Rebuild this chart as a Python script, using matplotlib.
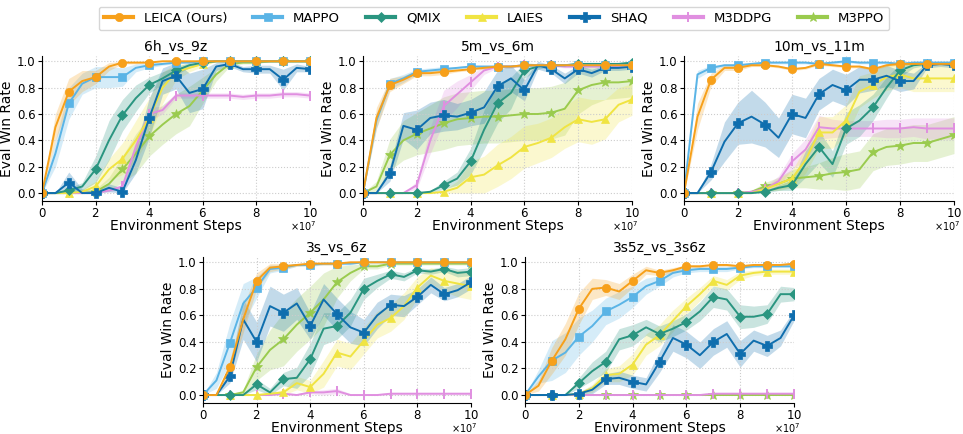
import numpy as np
import matplotlib
matplotlib.use("Agg")
import matplotlib.pyplot as plt
from matplotlib.ticker import ScalarFormatter

steps = np.arange(21) * 0.5e7

methods = ["LEICA (Ours)", "MAPPO", "QMIX", "LAIES", "SHAQ", "M3DDPG", "M3PPO"]
colors = ["#f7a01a", "#5ab4e6", "#2a9580", "#f0e442", "#0f6eae", "#e08fe0", "#9acb4e"]
markers = ["o", "s", "D", "^", "P", "|", "*"]

titles = ["6h_vs_9z", "5m_vs_6m", "10m_vs_11m", "3s_vs_6z", "3s5z_vs_3s6z"]

# ---- 6h_vs_9z ----
m6h_leica = [0, 0.5, 0.77, 0.85, 0.88, 0.96, 0.99, 0.99, 0.99, 1.0, 1.0, 1, 1, 1, 1, 1, 1, 1, 1, 1, 1]
m6h_mappo = [0, 0.3, 0.68, 0.83, 0.88, 0.88, 0.88, 0.95, 0.97, 0.98, 0.99, 0.99, 1.0, 1, 1, 1, 1, 1, 1, 1, 1]
m6h_qmix = [0, 0, 0.02, 0.05, 0.18, 0.4, 0.59, 0.72, 0.82, 0.87, 0.93, 0.97, 0.99, 1.0, 1, 1, 1, 1, 1, 1, 1]
m6h_laies = [0, 0, 0, 0.01, 0.05, 0.18, 0.26, 0.4, 0.57, 0.8, 0.92, 0.95, 0.98, 1.0, 1, 1, 1, 1, 1, 1, 1]
m6h_shaq = [0, 0, 0.08, 0, 0, 0.04, 0.01, 0.25, 0.57, 0.85, 0.89, 0.76, 0.79, 0.96, 0.98, 0.94, 0.94, 0.94, 0.86, 0.95, 0.94]
m6h_m3ddpg = [0, 0, 0, 0, 0, 0.02, 0.05, 0.35, 0.6, 0.63, 0.74, 0.74, 0.74, 0.74, 0.74, 0.73, 0.74, 0.74, 0.75, 0.75, 0.74]
m6h_m3ppo = [0, 0, 0, 0, 0.01, 0.07, 0.18, 0.3, 0.43, 0.52, 0.6, 0.66, 0.78, 0.9, 0.98, 0.99, 0.99, 1, 1, 1, 1]
s6h_leica = [0, 0.1, 0.1, 0.08, 0.05, 0.03, 0.01, 0.01, 0, 0, 0, 0, 0, 0, 0, 0, 0, 0, 0, 0, 0]
s6h_mappo = [0, 0.1, 0.12, 0.08, 0.08, 0.08, 0.07, 0.03, 0.02, 0.01, 0.01, 0, 0, 0, 0, 0, 0, 0, 0, 0, 0]
s6h_qmix = [0, 0, 0.02, 0.03, 0.1, 0.15, 0.12, 0.1, 0.06, 0.05, 0.03, 0.02, 0.01, 0, 0, 0, 0, 0, 0, 0, 0]
s6h_laies = [0, 0, 0.02, 0.02, 0.04, 0.08, 0.12, 0.15, 0.15, 0.12, 0.06, 0.03, 0.02, 0, 0, 0, 0, 0, 0, 0, 0]
s6h_shaq = [0, 0, 0.08, 0.03, 0.02, 0.03, 0.03, 0.1, 0.15, 0.1, 0.1, 0.15, 0.15, 0.03, 0.02, 0.02, 0.03, 0.03, 0.08, 0.03, 0.02]
s6h_m3ddpg = [0, 0, 0, 0, 0, 0.01, 0.02, 0.05, 0.05, 0.03, 0.02, 0.02, 0.02, 0.02, 0.02, 0.02, 0.02, 0.02, 0.02, 0.02, 0.02]
s6h_m3ppo = [0, 0, 0, 0.01, 0.02, 0.05, 0.1, 0.15, 0.15, 0.15, 0.15, 0.15, 0.1, 0.05, 0.02, 0.01, 0.01, 0, 0, 0, 0]

# ---- 5m_vs_6m ----
m5m_leica = [0, 0.57, 0.82, 0.86, 0.91, 0.91, 0.92, 0.93, 0.94, 0.95, 0.96, 0.96, 0.97, 0.97, 0.97, 0.97, 0.97, 0.97, 0.97, 0.97, 0.97]
m5m_mappo = [0, 0.55, 0.83, 0.87, 0.92, 0.93, 0.94, 0.95, 0.96, 0.96, 0.96, 0.96, 0.97, 0.97, 0.97, 0.97, 0.97, 0.97, 0.97, 0.97, 0.97]
m5m_qmix = [0, 0, 0, 0, 0, 0.01, 0.06, 0.11, 0.24, 0.48, 0.68, 0.76, 0.93, 0.96, 0.97, 0.97, 0.98, 0.98, 0.98, 0.98, 0.99]
m5m_laies = [0, 0, 0, 0, 0, 0, 0.01, 0.04, 0.12, 0.14, 0.21, 0.27, 0.35, 0.38, 0.42, 0.5, 0.56, 0.54, 0.56, 0.67, 0.71]
m5m_shaq = [0, 0, 0.15, 0.51, 0.48, 0.57, 0.59, 0.58, 0.61, 0.65, 0.81, 0.87, 0.78, 0.97, 0.94, 0.87, 0.94, 0.91, 0.95, 0.95, 0.96]
m5m_m3ddpg = [0, 0, 0, 0, 0.06, 0.4, 0.66, 0.75, 0.84, 0.93, 0.96, 0.96, 0.97, 0.97, 0.97, 0.96, 0.96, 0.96, 0.96, 0.96, 0.96]
m5m_m3ppo = [0, 0.05, 0.29, 0.4, 0.45, 0.49, 0.53, 0.56, 0.57, 0.58, 0.58, 0.59, 0.6, 0.6, 0.61, 0.64, 0.78, 0.82, 0.84, 0.84, 0.85]
s5m_leica = [0, 0.08, 0.05, 0.03, 0.02, 0.02, 0.02, 0.01, 0.01, 0.01, 0.01, 0.01, 0.01, 0.01, 0.01, 0.01, 0.01, 0.01, 0.01, 0.01, 0.01]
s5m_mappo = [0, 0.06, 0.04, 0.03, 0.02, 0.02, 0.02, 0.01, 0.01, 0.01, 0.01, 0.01, 0.01, 0.01, 0.01, 0.01, 0.01, 0.01, 0.01, 0.01, 0.01]
s5m_qmix = [0, 0, 0, 0, 0, 0.01, 0.03, 0.05, 0.1, 0.15, 0.15, 0.12, 0.06, 0.02, 0.01, 0.01, 0.01, 0.01, 0.01, 0.01, 0.01]
s5m_laies = [0, 0, 0, 0, 0, 0, 0.01, 0.05, 0.12, 0.14, 0.16, 0.16, 0.16, 0.15, 0.15, 0.16, 0.17, 0.17, 0.15, 0.13, 0.12]
s5m_shaq = [0, 0, 0.06, 0.1, 0.15, 0.12, 0.12, 0.1, 0.1, 0.12, 0.12, 0.1, 0.08, 0.03, 0.03, 0.04, 0.03, 0.03, 0.02, 0.02, 0.02]
s5m_m3ddpg = [0, 0, 0, 0, 0.03, 0.1, 0.12, 0.1, 0.06, 0.03, 0.01, 0.01, 0.01, 0.01, 0.01, 0.01, 0.01, 0.01, 0.01, 0.01, 0.01]
s5m_m3ppo = [0, 0.04, 0.12, 0.15, 0.16, 0.18, 0.2, 0.2, 0.2, 0.2, 0.2, 0.2, 0.2, 0.2, 0.2, 0.2, 0.18, 0.15, 0.13, 0.12, 0.12]

# ---- 10m_vs_11m ----
m10_leica = [0, 0.58, 0.86, 0.95, 0.95, 0.97, 0.97, 0.96, 0.94, 0.95, 0.98, 0.97, 0.96, 0.96, 0.94, 0.97, 0.98, 0.98, 0.98, 0.98, 0.98]
m10_mappo = [0, 0.9, 0.95, 0.97, 0.97, 0.98, 0.99, 0.99, 0.99, 0.99, 0.98, 0.99, 1.0, 0.99, 0.99, 0.99, 0.98, 0.99, 0.99, 0.99, 0.99]
m10_qmix = [0, 0, 0, 0, 0, 0, 0.01, 0.04, 0.06, 0.22, 0.35, 0.22, 0.49, 0.55, 0.65, 0.8, 0.93, 0.97, 0.98, 0.98, 0.98]
m10_laies = [0, 0, 0, 0, 0, 0, 0.03, 0.07, 0.11, 0.25, 0.46, 0.46, 0.55, 0.77, 0.82, 0.88, 0.9, 0.87, 0.87, 0.87, 0.87]
m10_shaq = [0, 0, 0.16, 0.39, 0.53, 0.58, 0.52, 0.42, 0.6, 0.57, 0.75, 0.82, 0.78, 0.86, 0.86, 0.89, 0.85, 0.85, 0.97, 0.98, 0.97]
m10_m3ddpg = [0, 0, 0, 0, 0, 0.01, 0.03, 0.09, 0.24, 0.33, 0.5, 0.49, 0.49, 0.49, 0.49, 0.49, 0.49, 0.5, 0.49, 0.49, 0.49]
m10_m3ppo = [0, 0, 0, 0, 0, 0.01, 0.05, 0.07, 0.11, 0.12, 0.13, 0.15, 0.16, 0.18, 0.31, 0.35, 0.36, 0.38, 0.38, 0.41, 0.44]
s10_leica = [0, 0.1, 0.05, 0.02, 0.02, 0.01, 0.01, 0.01, 0.01, 0.01, 0.01, 0.01, 0.01, 0.01, 0.01, 0.01, 0.01, 0.01, 0.01, 0.01, 0.01]
s10_mappo = [0, 0.03, 0.02, 0.01, 0.01, 0.01, 0.01, 0.01, 0.01, 0.01, 0.01, 0.01, 0.01, 0.01, 0.01, 0.01, 0.01, 0.01, 0.01, 0.01, 0.01]
s10_qmix = [0, 0, 0, 0, 0, 0, 0.01, 0.02, 0.04, 0.1, 0.12, 0.1, 0.12, 0.12, 0.1, 0.08, 0.05, 0.02, 0.01, 0.01, 0.01]
s10_laies = [0, 0, 0, 0, 0, 0, 0.02, 0.04, 0.06, 0.1, 0.12, 0.12, 0.12, 0.12, 0.1, 0.1, 0.1, 0.1, 0.1, 0.1, 0.1]
s10_shaq = [0, 0, 0.06, 0.15, 0.16, 0.2, 0.17, 0.15, 0.15, 0.15, 0.12, 0.12, 0.12, 0.1, 0.08, 0.08, 0.08, 0.06, 0.02, 0.02, 0.02]
s10_m3ddpg = [0, 0, 0, 0, 0, 0.01, 0.02, 0.04, 0.06, 0.08, 0.09, 0.07, 0.06, 0.06, 0.06, 0.07, 0.07, 0.07, 0.08, 0.08, 0.08]
s10_m3ppo = [0, 0, 0, 0, 0, 0.01, 0.03, 0.05, 0.07, 0.08, 0.1, 0.12, 0.14, 0.14, 0.14, 0.14, 0.14, 0.14, 0.14, 0.14, 0.14]

# ---- 3s_vs_6z ----
m3s_leica = [0, 0, 0.21, 0.57, 0.86, 0.96, 0.97, 0.98, 0.99, 0.99, 0.99, 1, 1, 1, 1, 1, 1, 1, 1, 1, 1]
m3s_mappo = [0, 0.11, 0.39, 0.69, 0.81, 0.95, 0.96, 0.98, 0.98, 0.99, 0.99, 0.99, 1, 1, 1, 1, 1, 1, 1, 1, 1]
m3s_qmix = [0, 0, 0, 0, 0.08, 0.02, 0.12, 0.13, 0.27, 0.5, 0.52, 0.62, 0.8, 0.86, 0.91, 0.89, 0.94, 0.93, 0.95, 0.92, 0.93]
m3s_laies = [0, 0, 0, 0, 0, 0.01, 0.02, 0.09, 0.06, 0.16, 0.32, 0.29, 0.41, 0.53, 0.58, 0.67, 0.81, 0.9, 0.86, 0.84, 0.82]
m3s_shaq = [0, 0, 0.14, 0.57, 0.4, 0.67, 0.62, 0.69, 0.52, 0.72, 0.61, 0.51, 0.47, 0.6, 0.68, 0.67, 0.74, 0.83, 0.76, 0.79, 0.85]
m3s_m3ddpg = [0, 0, 0, 0, 0, 0, 0.01, 0, 0.02, 0.02, 0.03, 0, 0, 0, 0.01, 0.01, 0.01, 0.01, 0.01, 0.01, 0.01]
m3s_m3ppo = [0, 0, 0, 0.02, 0.21, 0.34, 0.42, 0.53, 0.62, 0.72, 0.85, 0.92, 0.97, 0.97, 0.99, 0.99, 0.99, 0.99, 0.99, 0.99, 0.99]
s3s_leica = [0, 0, 0.05, 0.1, 0.06, 0.03, 0.02, 0.01, 0.01, 0.01, 0.01, 0, 0, 0, 0, 0, 0, 0, 0, 0, 0]
s3s_mappo = [0, 0.06, 0.15, 0.15, 0.08, 0.03, 0.02, 0.01, 0.01, 0.01, 0.01, 0.01, 0, 0, 0, 0, 0, 0, 0, 0, 0]
s3s_qmix = [0, 0, 0, 0, 0.04, 0.03, 0.05, 0.08, 0.12, 0.12, 0.1, 0.1, 0.08, 0.05, 0.03, 0.03, 0.02, 0.02, 0.02, 0.03, 0.03]
s3s_laies = [0, 0, 0, 0, 0, 0.01, 0.02, 0.05, 0.05, 0.1, 0.1, 0.1, 0.1, 0.1, 0.1, 0.1, 0.08, 0.06, 0.08, 0.1, 0.1]
s3s_shaq = [0, 0, 0.05, 0.15, 0.15, 0.15, 0.14, 0.12, 0.1, 0.12, 0.12, 0.12, 0.1, 0.1, 0.08, 0.08, 0.06, 0.06, 0.05, 0.05, 0.05]
s3s_m3ddpg = [0, 0, 0, 0, 0, 0, 0.01, 0.01, 0.01, 0.02, 0.02, 0.01, 0.01, 0.01, 0.01, 0.01, 0.01, 0.01, 0.01, 0.01, 0.01]
s3s_m3ppo = [0, 0, 0, 0.02, 0.1, 0.15, 0.2, 0.2, 0.2, 0.2, 0.12, 0.06, 0.02, 0.02, 0.01, 0.01, 0.01, 0.01, 0.01, 0.01, 0.01]

# ---- 3s5z_vs_3s6z ----
m35_leica = [0, 0.07, 0.26, 0.42, 0.65, 0.8, 0.81, 0.78, 0.86, 0.94, 0.92, 0.94, 0.97, 0.97, 0.98, 0.98, 0.97, 0.98, 0.98, 0.98, 0.99]
m35_mappo = [0, 0.14, 0.26, 0.32, 0.44, 0.52, 0.63, 0.68, 0.74, 0.82, 0.86, 0.92, 0.94, 0.95, 0.95, 0.95, 0.96, 0.97, 0.97, 0.97, 0.97]
m35_qmix = [0, 0, 0, 0, 0.09, 0.18, 0.25, 0.42, 0.45, 0.51, 0.46, 0.5, 0.55, 0.63, 0.74, 0.72, 0.59, 0.59, 0.61, 0.76, 0.76]
m35_laies = [0, 0, 0, 0, 0.01, 0.05, 0.15, 0.16, 0.23, 0.38, 0.45, 0.56, 0.67, 0.76, 0.86, 0.83, 0.9, 0.92, 0.93, 0.93, 0.93]
m35_shaq = [0, 0, 0, 0, 0.01, 0.04, 0.12, 0.13, 0.1, 0.08, 0.25, 0.43, 0.38, 0.3, 0.4, 0.46, 0.31, 0.41, 0.37, 0.43, 0.6]
m35_m3ddpg = [0, 0, 0, 0, 0, 0, 0, 0, 0, 0, 0, 0, 0, 0, 0.01, 0.01, 0.01, 0.01, 0.01, 0.01, 0.01]
m35_m3ppo = [0, 0, 0, 0, 0, 0, 0, 0, 0, 0, 0, 0, 0, 0, 0, 0, 0, 0, 0, 0, 0]
s35_leica = [0, 0.04, 0.1, 0.12, 0.12, 0.08, 0.06, 0.06, 0.05, 0.03, 0.02, 0.02, 0.01, 0.01, 0.01, 0.01, 0.01, 0.01, 0.01, 0.01, 0.01]
s35_mappo = [0, 0.05, 0.15, 0.15, 0.14, 0.12, 0.1, 0.1, 0.08, 0.06, 0.04, 0.03, 0.02, 0.02, 0.02, 0.02, 0.01, 0.01, 0.01, 0.01, 0.01]
s35_qmix = [0, 0, 0, 0, 0.04, 0.07, 0.08, 0.08, 0.08, 0.06, 0.06, 0.06, 0.06, 0.07, 0.08, 0.08, 0.09, 0.08, 0.07, 0.06, 0.05]
s35_laies = [0, 0, 0, 0, 0.01, 0.03, 0.05, 0.06, 0.08, 0.08, 0.08, 0.08, 0.06, 0.05, 0.04, 0.04, 0.03, 0.02, 0.02, 0.02, 0.02]
s35_shaq = [0, 0, 0, 0, 0.01, 0.03, 0.04, 0.05, 0.05, 0.05, 0.08, 0.1, 0.1, 0.1, 0.1, 0.1, 0.1, 0.08, 0.08, 0.06, 0.04]
s35_m3ddpg = [0, 0, 0, 0, 0, 0, 0, 0, 0, 0, 0, 0, 0, 0.01, 0.01, 0.01, 0.01, 0.01, 0.01, 0.01, 0.01]
s35_m3ppo = [0, 0, 0, 0, 0, 0, 0, 0, 0, 0, 0, 0, 0, 0, 0, 0, 0, 0, 0, 0, 0]

panels = [
    ([m6h_leica, m6h_mappo, m6h_qmix, m6h_laies, m6h_shaq, m6h_m3ddpg, m6h_m3ppo],
     [s6h_leica, s6h_mappo, s6h_qmix, s6h_laies, s6h_shaq, s6h_m3ddpg, s6h_m3ppo]),
    ([m5m_leica, m5m_mappo, m5m_qmix, m5m_laies, m5m_shaq, m5m_m3ddpg, m5m_m3ppo],
     [s5m_leica, s5m_mappo, s5m_qmix, s5m_laies, s5m_shaq, s5m_m3ddpg, s5m_m3ppo]),
    ([m10_leica, m10_mappo, m10_qmix, m10_laies, m10_shaq, m10_m3ddpg, m10_m3ppo],
     [s10_leica, s10_mappo, s10_qmix, s10_laies, s10_shaq, s10_m3ddpg, s10_m3ppo]),
    ([m3s_leica, m3s_mappo, m3s_qmix, m3s_laies, m3s_shaq, m3s_m3ddpg, m3s_m3ppo],
     [s3s_leica, s3s_mappo, s3s_qmix, s3s_laies, s3s_shaq, s3s_m3ddpg, s3s_m3ppo]),
    ([m35_leica, m35_mappo, m35_qmix, m35_laies, m35_shaq, m35_m3ddpg, m35_m3ppo],
     [s35_leica, s35_mappo, s35_qmix, s35_laies, s35_shaq, s35_m3ddpg, s35_m3ppo]),
]

W, H = 963, 434
fig = plt.figure(figsize=(W / 100, H / 100), dpi=100)

# pixel boxes: (left, top, right, bottom)
boxes = [(42, 56, 310, 201), (363, 56, 632, 201), (684, 56, 954, 201),
         (203, 257, 471, 403), (525, 257, 794, 403)]

order = [6, 5, 3, 2, 4, 1, 0]  # draw order (LEICA on top)
handles = [None] * 7
for bi, (box, (means, stds)) in enumerate(zip(boxes, panels)):
    l, t, r, b = box
    ax = fig.add_axes([l / W, 1 - b / H, (r - l) / W, (b - t) / H])
    for k in order:
        m = np.array(means[k], dtype=float)
        s = np.array(stds[k], dtype=float)
        ax.fill_between(steps, np.clip(m - s, 0, 1), np.clip(m + s, 0, 1),
                        color=colors[k], alpha=0.25, linewidth=0)
        ms = {"o": 6, "s": 6, "D": 5, "^": 6, "P": 6.5, "|": 7, "*": 7.5}[markers[k]]
        ln, = ax.plot(steps, m, color=colors[k], marker=markers[k], markevery=2,
                      markersize=ms, linewidth=1.4,
                      markeredgewidth=1.4 if markers[k] == "|" else 0.5)
        if handles[k] is None:
            handles[k] = ln
    ax.set_xlim(0, 1e8)
    ax.set_ylim(-0.06, 1.04)
    ax.set_yticks([0, 0.2, 0.4, 0.6, 0.8, 1.0])
    ax.set_xticks(np.arange(0, 11, 2) * 1e7)
    fmt = ScalarFormatter(useMathText=True)
    fmt.set_powerlimits((7, 7))
    ax.xaxis.set_major_formatter(fmt)
    ax.xaxis.get_offset_text().set_visible(False)
    ax.text(0.975, -0.172, r"$\times\mathdefault{10^{7}}$", transform=ax.transAxes,
            ha="center", va="center", fontsize=7)
    ax.grid(True, linestyle=":", color="#cccccc", linewidth=0.8)
    ax.spines["top"].set_visible(False)
    ax.spines["right"].set_visible(False)
    ax.tick_params(labelsize=8.5, length=3, pad=1.5)
    ax.set_title(titles[bi], fontsize=10, pad=4)
    ax.set_ylabel("Eval Win Rate", fontsize=10, labelpad=2)
    ax.set_xlabel("Environment Steps", fontsize=10, labelpad=-1)

leg = fig.legend(handles, methods, loc="upper center", bbox_to_anchor=(0.513, 1.0),
                 ncol=7, fontsize=9.5, frameon=True, handlelength=2.2,
                 columnspacing=2.0, borderpad=0.4, markerscale=1.0)
leg.get_frame().set_edgecolor("#cccccc")
for lh in leg.get_lines():
    lh.set_linewidth(3)

fig.savefig("out.png", dpi=100)
